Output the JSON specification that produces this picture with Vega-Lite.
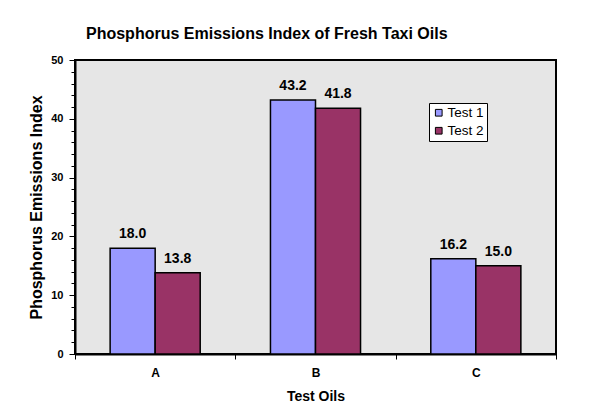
{
  "$schema": "https://vega.github.io/schema/vega-lite/v6.json",
  "width": 481,
  "height": 294,
  "autosize": {"type": "none"},
  "padding": {"left": 75, "top": 60, "right": 36, "bottom": 53},
  "background": "white",
  "title": {
    "text": "Phosphorus Emissions Index of Fresh Taxi Oils",
    "anchor": "start",
    "frame": "group",
    "dx": 11,
    "offset": 12,
    "fontSize": 16,
    "fontWeight": "bold",
    "font": "Liberation Sans",
    "color": "black"
  },
  "data": {
    "values": [
      {"oil": "A", "test": "Test 1", "value": 18.0},
      {"oil": "A", "test": "Test 2", "value": 13.8},
      {"oil": "B", "test": "Test 1", "value": 43.2},
      {"oil": "B", "test": "Test 2", "value": 41.8},
      {"oil": "C", "test": "Test 1", "value": 16.2},
      {"oil": "C", "test": "Test 2", "value": 15.0}
    ]
  },
  "encoding": {
    "x": {
      "field": "oil",
      "type": "nominal",
      "scale": {"paddingInner": 0, "paddingOuter": 0},
      "axis": {
        "title": "Test Oils",
        "titleFontSize": 14,
        "labelAngle": 0,
        "labelFontSize": 12,
        "tickBand": "extent",
        "tickSize": 5,
        "tickColor": "black",
        "domainColor": "black",
        "domainWidth": 2,
        "labelPadding": 8,
        "titlePadding": 11
      }
    },
    "xOffset": {
      "field": "test",
      "type": "nominal",
      "scale": {"paddingInner": 0, "paddingOuter": 0.78}
    },
    "y": {
      "field": "value",
      "type": "quantitative",
      "scale": {"domain": [0, 50], "nice": false},
      "axis": {
        "title": "Phosphorus Emissions Index",
        "titleFontSize": 16,
        "values": [0, 2, 4, 6, 8, 10, 12, 14, 16, 18, 20, 22, 24, 26, 28, 30, 32, 34, 36, 38, 40, 42, 44, 46, 48, 50],
        "labelExpr": "datum.value % 10 == 0 ? datum.label : ''",
        "grid": false,
        "tickSize": {"condition": {"test": "datum.value % 10 == 0", "value": 6}, "value": 4},
        "tickColor": "black",
        "domainColor": "black",
        "domainWidth": 2,
        "labelPadding": 6,
        "titlePadding": 6
      }
    }
  },
  "layer": [
    {
      "mark": {"type": "bar", "stroke": "black", "strokeWidth": 1.5},
      "encoding": {
        "color": {
          "field": "test",
          "type": "nominal",
          "scale": {"domain": ["Test 1", "Test 2"], "range": ["#9999FF", "#993366"]},
          "legend": {
            "title": null,
            "orient": "none",
            "legendX": 354,
            "legendY": 43,
            "padding": 3,
            "rowPadding": 3,
            "symbolType": "square",
            "symbolSize": 45,
            "symbolStrokeColor": "black",
            "symbolStrokeWidth": 1,
            "symbolOpacity": 1,
            "labelFontSize": 13.5,
            "labelFont": "Liberation Sans",
            "labelColor": "black",
            "labelOffset": 2,
            "strokeColor": "black",
            "fillColor": "white"
          }
        }
      }
    },
    {
      "mark": {
        "type": "text",
        "baseline": "alphabetic",
        "dy": -10,
        "fontSize": 14,
        "fontWeight": "bold",
        "font": "Liberation Sans",
        "color": "black"
      },
      "encoding": {
        "text": {"field": "value", "type": "quantitative", "format": ".1f"}
      }
    }
  ],
  "config": {
    "view": {"fill": "#E6E6E6", "stroke": "black", "strokeWidth": 2},
    "axis": {
      "labelFont": "Liberation Sans",
      "labelFontSize": 11,
      "labelFontWeight": "bold",
      "labelColor": "black",
      "titleFont": "Liberation Sans",
      "titleFontWeight": "bold",
      "titleColor": "black"
    }
  }
}
